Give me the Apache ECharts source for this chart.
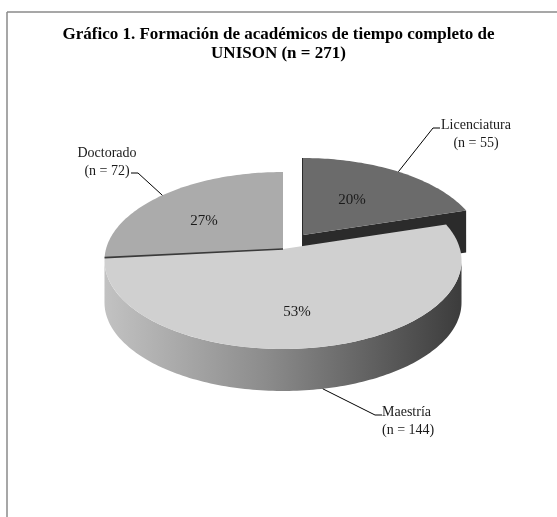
<!DOCTYPE html>
<html>
<head>
<meta charset="utf-8">
<script src="https://cdn.jsdelivr.net/npm/echarts@6/dist/echarts.min.js"></script>
<style>
  html, body { margin: 0; padding: 0; background: #fff; }
  #chart { width: 557px; height: 517px; }
</style>
</head>
<body>
<div id="chart"></div>
<script>
// data
const categories = ["Licenciatura", "Maestría", "Doctorado"];
const counts = [55, 144, 72];
const titleText = "Gráfico 1. Formación de académicos de tiempo completo de\nUNISON (n = 271)";

// layout of the 3d pie (screen px)
const CX = 283, CY = 249, A = 177, B = 87, P = 0.13, H = 42;
const explode = [[20, -14], [0, 0], [0, 0]];
const topColors = ["#6b6b6b", "#d0d0d0", "#ababab"];
const sideColors = ["#2b2b2b", null, "#8a8a8a"];
// label boxes: text anchor (block middle), elbow, alignment
const labelLayout = [
  { x: 476, y: 134, align: "center", elbow: [[433, 128], [440, 128]] },
  { x: 382, y: 421, align: "left", elbow: [[375, 415], [382, 415]] },
  { x: 107, y: 162, align: "center", elbow: [[138, 173], [131, 173]] }
];
const pctPos = [[352, 200], [297, 312], [204, 221]];

const total = counts.reduce((a, b) => a + b, 0);
const starts = [];
counts.reduce((acc, v, i) => { starts[i] = acc; return acc + v; }, 0);

function proj(t, r, drop, off) {
  const w = 1 + P * r * Math.cos(t);
  return [CX + A * r * Math.sin(t) / w + off[0], CY - B * r * Math.cos(t) / w + drop + off[1]];
}
function arc(s, e, drop, off) {
  const pts = [];
  const n = Math.max(2, Math.ceil((e - s) / 0.02));
  for (let k = 0; k <= n; k++) pts.push(proj(s + (e - s) * k / n, 1, drop, off));
  return pts;
}

const tL = Math.acos(-P), tR = 2 * Math.PI - Math.acos(-P);

function renderItem(params, api) {
  const i = params.dataIndex;
  const v = api.value(0);
  const s = 2 * Math.PI * starts[i] / total;
  const e = s + 2 * Math.PI * v / total;
  const off = explode[i];
  const c0 = proj(0, 0, 0, off), c1 = proj(0, 0, H, off);
  const children = [];

  // outer wall (front facing part)
  const a = Math.max(s, tL), b = Math.min(e, tR);
  if (b > a) {
    const pts = arc(a, b, 0, off).concat(arc(a, b, H, off).reverse());
    const fill = sideColors[i] || new echarts.graphic.LinearGradient(0, 0, 1, 0, [
      { offset: 0, color: "#c2c2c2" },
      { offset: 0.45, color: "#8c8c8c" },
      { offset: 1, color: "#3c3c3c" }
    ]);
    children.push({ type: "polygon", z2: 1, shape: { points: pts }, style: { fill: fill } });
  }
  // cut faces of the exploded slice
  if (off[0] || off[1]) {
    const re0 = proj(e, 1, 0, off), re1 = proj(e, 1, H, off);
    if (Math.sin(e) > 0) {
      children.push({ type: "polygon", z2: 1, shape: { points: [c0, re0, re1, c1] }, style: { fill: sideColors[i] } });
    }
    const rs0 = proj(s, 1, 0, off), rs1 = proj(s, 1, H, off);
    if (Math.sin(s) <= 0.001) {
      children.push({ type: "polygon", z2: 1, shape: { points: [c0, rs0, rs1, c1] },
        style: { fill: sideColors[i], stroke: sideColors[i], lineWidth: 2 } });
    }
  }
  // top face
  children.push({ type: "polygon", z2: 2, shape: { points: [c0].concat(arc(s, e, 0, off)) }, style: { fill: topColors[i] } });
  if (!(off[0] || off[1]) && Math.sin(s) < 0) {
    children.push({ type: "polyline", z2: 3, shape: { points: [c0, proj(s, 1, 0, off)] },
      style: { stroke: "#3a3a3a", lineWidth: 1.6, fill: null } });
  }

  // percentage
  children.push({ type: "text", z2: 10, x: pctPos[i][0], y: pctPos[i][1],
    style: { text: Math.round(v / total * 100) + "%", align: "center", verticalAlign: "middle",
      font: "15px 'Liberation Serif'", fill: "#1a1a1a" } });

  // leader and category label
  const m = (s + e) / 2;
  const anchor = proj(m, 1, Math.cos(m) < -P ? H : 0, off);
  const L = labelLayout[i];
  children.push({ type: "polyline", z2: 10, shape: { points: [anchor].concat(L.elbow) },
    style: { stroke: "#000", lineWidth: 1, fill: null } });
  children.push({ type: "text", z2: 10, x: L.x, y: L.y,
    style: { text: categories[i] + "\n(n = " + v + ")", align: L.align, verticalAlign: "middle",
      lineHeight: 18, font: "14px 'Liberation Serif'", fill: "#1a1a1a" } });

  return { type: "group", children: children };
}

const chart = echarts.init(document.getElementById("chart"));
chart.setOption({
  animation: false,
  title: {
    text: titleText,
    left: "center",
    top: 20,
    textStyle: { fontFamily: "Liberation Serif", fontSize: 17, fontWeight: "bold", color: "#000", lineHeight: 19 }
  },
  graphic: [
    { type: "line", shape: { x1: 7, y1: 12, x2: 557, y2: 12 }, style: { stroke: "#8a8a8a", lineWidth: 1.5 } },
    { type: "line", shape: { x1: 7, y1: 12, x2: 7, y2: 517 }, style: { stroke: "#8a8a8a", lineWidth: 1.5 } }
  ],
  series: [{
    type: "custom",
    coordinateSystem: "none",
    renderItem: renderItem,
    data: counts.map((v, i) => ({ name: categories[i], value: [v] }))
  }]
});
</script>
</body>
</html>
